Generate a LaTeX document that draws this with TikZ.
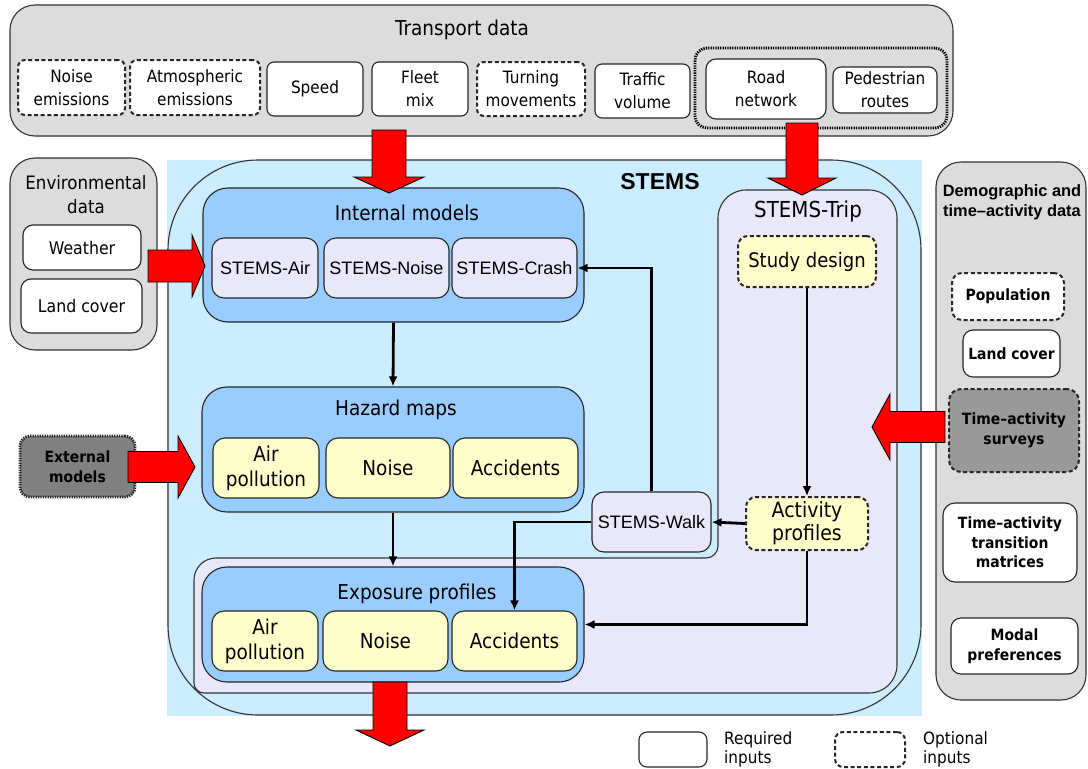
\documentclass[tikz,border=0pt]{standalone}
\usepackage{fontspec}
\newfontfamily\tahoma[FakeStretch=0.9]{DejaVu Sans}
\newfontfamily\arial{Liberation Sans}
\usepackage{xcolor}
\usetikzlibrary{arrows.meta,calc}

\definecolor{panelgray}{RGB}{220,220,220}
\definecolor{stemscyan}{RGB}{204,236,255}
\definecolor{modelblue}{RGB}{153,204,255}
\definecolor{triplav}{RGB}{232,232,250}
\definecolor{mapyellow}{RGB}{255,255,204}
\definecolor{extgray}{RGB}{128,128,128}
\definecolor{surveygray}{RGB}{153,153,153}

% big red block arrow: start, angle, length, shaft half, head half, head length
\newcommand{\fatarrow}[6]{%
  \begin{scope}[shift={#1},rotate=#2]
    \filldraw[fill=red,draw=black,line width=0.9pt]
      (0,-#4) -- ({#3-#6},-#4) -- ({#3-#6},-#5) -- (#3,0)
      -- ({#3-#6},#5) -- ({#3-#6},#4) -- (0,#4) -- cycle;
  \end{scope}}

\begin{document}
\begin{tikzpicture}[
    x=1pt, y=-1pt,
    panel/.style={draw=black!80, line width=1.1pt, fill=panelgray, rounded corners=25, inner sep=0pt},
    box/.style={draw=black!85, line width=1.1pt, rounded corners=7, inner sep=0pt, align=center},
    optline/.style={line width=2pt, dash pattern=on 4pt off 2.6pt},
    dotline/.style={line width=2.8pt, dash pattern=on 1.3pt off 1.1pt},
    sz/.style 2 args={minimum width=#1, minimum height=#2},
    link/.style={-{Latex[length=10pt,width=9pt]}, line width=2.8pt},
    ftop/.style={font=\tahoma\fontsize{17}{23}\selectfont},
    ftitle/.style={font=\tahoma\fontsize{20.5}{24}\selectfont},
    fbox/.style={font=\tahoma\fontsize{20.5}{25}\selectfont},
    fenv/.style={font=\tahoma\fontsize{18.5}{24}\selectfont},
    fenvin/.style={font=\tahoma\fontsize{17.5}{21}\selectfont},
    farial/.style={font=\arial\fontsize{18}{21}\selectfont},
    fstems/.style={font=\arial\bfseries\fontsize{23}{27}\selectfont},
    fdemo/.style={font=\arial\bfseries\fontsize{16.4}{20}\selectfont},
    fbold/.style={font=\tahoma\bfseries\fontsize{15.5}{19.5}\selectfont},
    flegend/.style={font=\tahoma\fontsize{17}{19}\selectfont}
]

\fill[white] (0,0) rectangle (1088,769);
\useasboundingbox (0,0) rectangle (1088,769);

% -------------------------------------------------
% Transport data
% -------------------------------------------------

\node[panel, sz={943}{131}] (trans) at (481.5,70.5) {};
\node[ftitle] (transT) at (462,30) {Transport data};

\node[box, fill=white, optline, sz={107}{55}, ftop] (noiseE) at (71.5,87.5) {Noise\\emissions};
\node[box, fill=white, optline, sz={130}{55}, ftop] (atmoE) at (195,87.5) {Atmospheric\\emissions};
\node[box, fill=white, sz={96}{54}, ftop] (speed) at (315,89) {Speed};
\node[box, fill=white, sz={96}{54}, ftop] (fleet) at (420,89) {Fleet\\mix};
\node[box, fill=white, optline, sz={108}{54}, ftop] (turn) at (531,89) {Turning\\movements};
\node[box, fill=white, sz={95}{54}, ftop] (traffic) at (642.5,91) {Traffic\\volume};

\node[draw=black, dotline, rounded corners=12, sz={252}{80}, inner sep=0pt] (netgrp) at (821,88) {};
\node[box, fill=white, rounded corners=10, sz={120}{60}, ftop] (road) at (766,89) {Road\\network};
\node[box, fill=white, rounded corners=8, sz={104}{46}, ftop] (pedes) at (885,90) {Pedestrian\\routes};

% -------------------------------------------------
% Environmental data
% -------------------------------------------------

\node[panel, sz={147}{192}] (env) at (83.5,254) {};
\node[fenv, align=center] (envT) at (86,195) {Environmental\\data};
\node[box, fill=white, rounded corners=10, sz={118}{45}, fenvin] (weather) at (82,247.5) {Weather};
\node[box, fill=white, rounded corners=10, sz={121}{54}, fenvin] (landE) at (81.5,306) {Land cover};

% -------------------------------------------------
% Demographic and time-activity data
% -------------------------------------------------

\node[panel, sz={150}{538}] (demo) at (1011,431) {};
\node[fdemo, align=center] (demoT) at (1012,202) {Demographic and\\time–activity data};
\node[box, fill=white, optline, rounded corners=10, sz={112}{47}, fbold] (popu) at (1008,296.5) {Population};
\node[box, fill=white, rounded corners=10, sz={97}{47}, fbold] (landD) at (1011.5,353.5) {Land cover};
\node[box, fill=surveygray, optline, rounded corners=12, sz={130}{83}, fbold] (survey) at (1014,430.5) {Time–activity\\surveys};
\node[box, fill=white, rounded corners=12, sz={134}{79}, fbold] (transm) at (1010,542.5) {Time–activity\\transition\\matrices};
\node[box, fill=white, rounded corners=10, sz={127}{56}, fbold] (modal) at (1014.5,646) {Modal\\preferences};

% -------------------------------------------------
% External models
% -------------------------------------------------

\node[box, fill=extgray, dotline, rounded corners=10, sz={115}{61}, fbold] (extm) at (77.5,466.5) {External\\models};

% -------------------------------------------------
% STEMS
% -------------------------------------------------

\fill[stemscyan] (167,160) rectangle (922,716);
\draw[black!80, line width=1.1pt, rounded corners=90] (168,160) rectangle (921,715);
\node[fstems] (stemsT) at (660,182) {STEMS};

% STEMS-Trip area, wrapping round the exposure profiles
\draw[fill=triplav, draw=black!80, line width=1.1pt, rounded corners=28]
  (718,400) -- (718,190) -- (897,190) -- (897,693)
  [rounded corners=10] -- (194,693)
  [rounded corners=22] -- (194,558)
  [rounded corners=12] -- (718,558) -- cycle;

\node[font=\tahoma\fontsize{22}{26}\selectfont] (tripT) at (808,211) {STEMS-Trip};
\node[box, fill=mapyellow, optline, rounded corners=10, sz={138}{51}, font=\tahoma\fontsize{20}{24}\selectfont] (study) at (807,261.5) {Study design};
\node[box, fill=mapyellow, optline, rounded corners=10, sz={122}{53}, font=\tahoma\fontsize{21}{23}\selectfont] (actp) at (807,523.5) {Activity\\profiles};
\node[box, fill=triplav, rounded corners=12, sz={119}{60}, farial] (walk) at (651.5,522) {STEMS-Walk};

% internal models
\node[box, fill=modelblue, rounded corners=25, sz={381}{134}] (intm) at (393.5,255) {};
\node[ftitle] (intmT) at (407,213) {Internal models};
\node[box, fill=triplav, rounded corners=12, sz={106}{60}, farial] (sair) at (265,268) {STEMS-Air};
\node[box, fill=triplav, rounded corners=12, sz={125}{60}, farial] (snoise) at (386.5,268) {STEMS-Noise};
\node[box, fill=triplav, rounded corners=12, sz={125}{60}, farial] (scrash) at (514.5,268) {STEMS-Crash};

% hazard maps
\node[box, fill=modelblue, rounded corners=25, sz={382}{125}] (hazm) at (393,449.5) {};
\node[ftitle] (hazmT) at (396,410) {Hazard maps};
\node[box, fill=mapyellow, rounded corners=12, sz={106}{60}, fbox] (hair) at (266,468) {Air\\pollution};
\node[box, fill=mapyellow, rounded corners=12, sz={124}{60}, fbox] (hnoise) at (388,468) {Noise};
\node[box, fill=mapyellow, rounded corners=12, sz={125}{60}, fbox] (hacc) at (515.5,468) {Accidents};

% exposure profiles
\node[box, fill=modelblue, rounded corners=25, sz={382}{115}] (expo) at (393,624.5) {};
\node[ftitle] (expoT) at (417,594) {Exposure profiles};
\node[box, fill=mapyellow, rounded corners=12, sz={106}{60}, fbox] (eair) at (265,641) {Air\\pollution};
\node[box, fill=mapyellow, rounded corners=12, sz={125}{60}, fbox] (enoise) at (385.5,641) {Noise};
\node[box, fill=mapyellow, rounded corners=12, sz={125}{60}, fbox] (eacc) at (514.5,641) {Accidents};

% -------------------------------------------------
% Links
% -------------------------------------------------

\draw[link] (intm.south) -- (hazm.north);
\draw[link] (hazm.south) -- (expo.north);
\draw[link] (walk.north) |- (scrash.east);
\draw[link] (walk.west) -| (eacc.north);
\draw[link] (study.south) -- (actp.north);
\draw[link] (actp.west) -- (walk.east);
\draw[link] (actp.south) |- (expo.east);

% -------------------------------------------------
% Data flows
% -------------------------------------------------

\fatarrow{(389,130)}{-90}{63}{17}{35}{16}
\fatarrow{(802,123)}{-90}{72}{16}{34}{17}
\fatarrow{(148,266)}{0}{57}{16}{31}{13}
\fatarrow{(128,467)}{0}{67}{15.5}{31}{17}
\fatarrow{(945,427)}{180}{73}{15.5}{33}{18}
\fatarrow{(390,682)}{-90}{64}{17}{34}{16}

% -------------------------------------------------
% Legend
% -------------------------------------------------

\node[box, fill=white, rounded corners=8, sz={68}{35}] (reqL) at (673,749.5) {};
\node[flegend, anchor=west, align=left, inner sep=0pt] (reqT) at (724,749) {Required\\inputs};
\node[box, fill=white, optline, rounded corners=8, sz={70}{35}] (optL) at (870,749.5) {};
\node[flegend, anchor=west, align=left, inner sep=0pt] (optT) at (923,749) {Optional\\inputs};

\end{tikzpicture}
\end{document}
